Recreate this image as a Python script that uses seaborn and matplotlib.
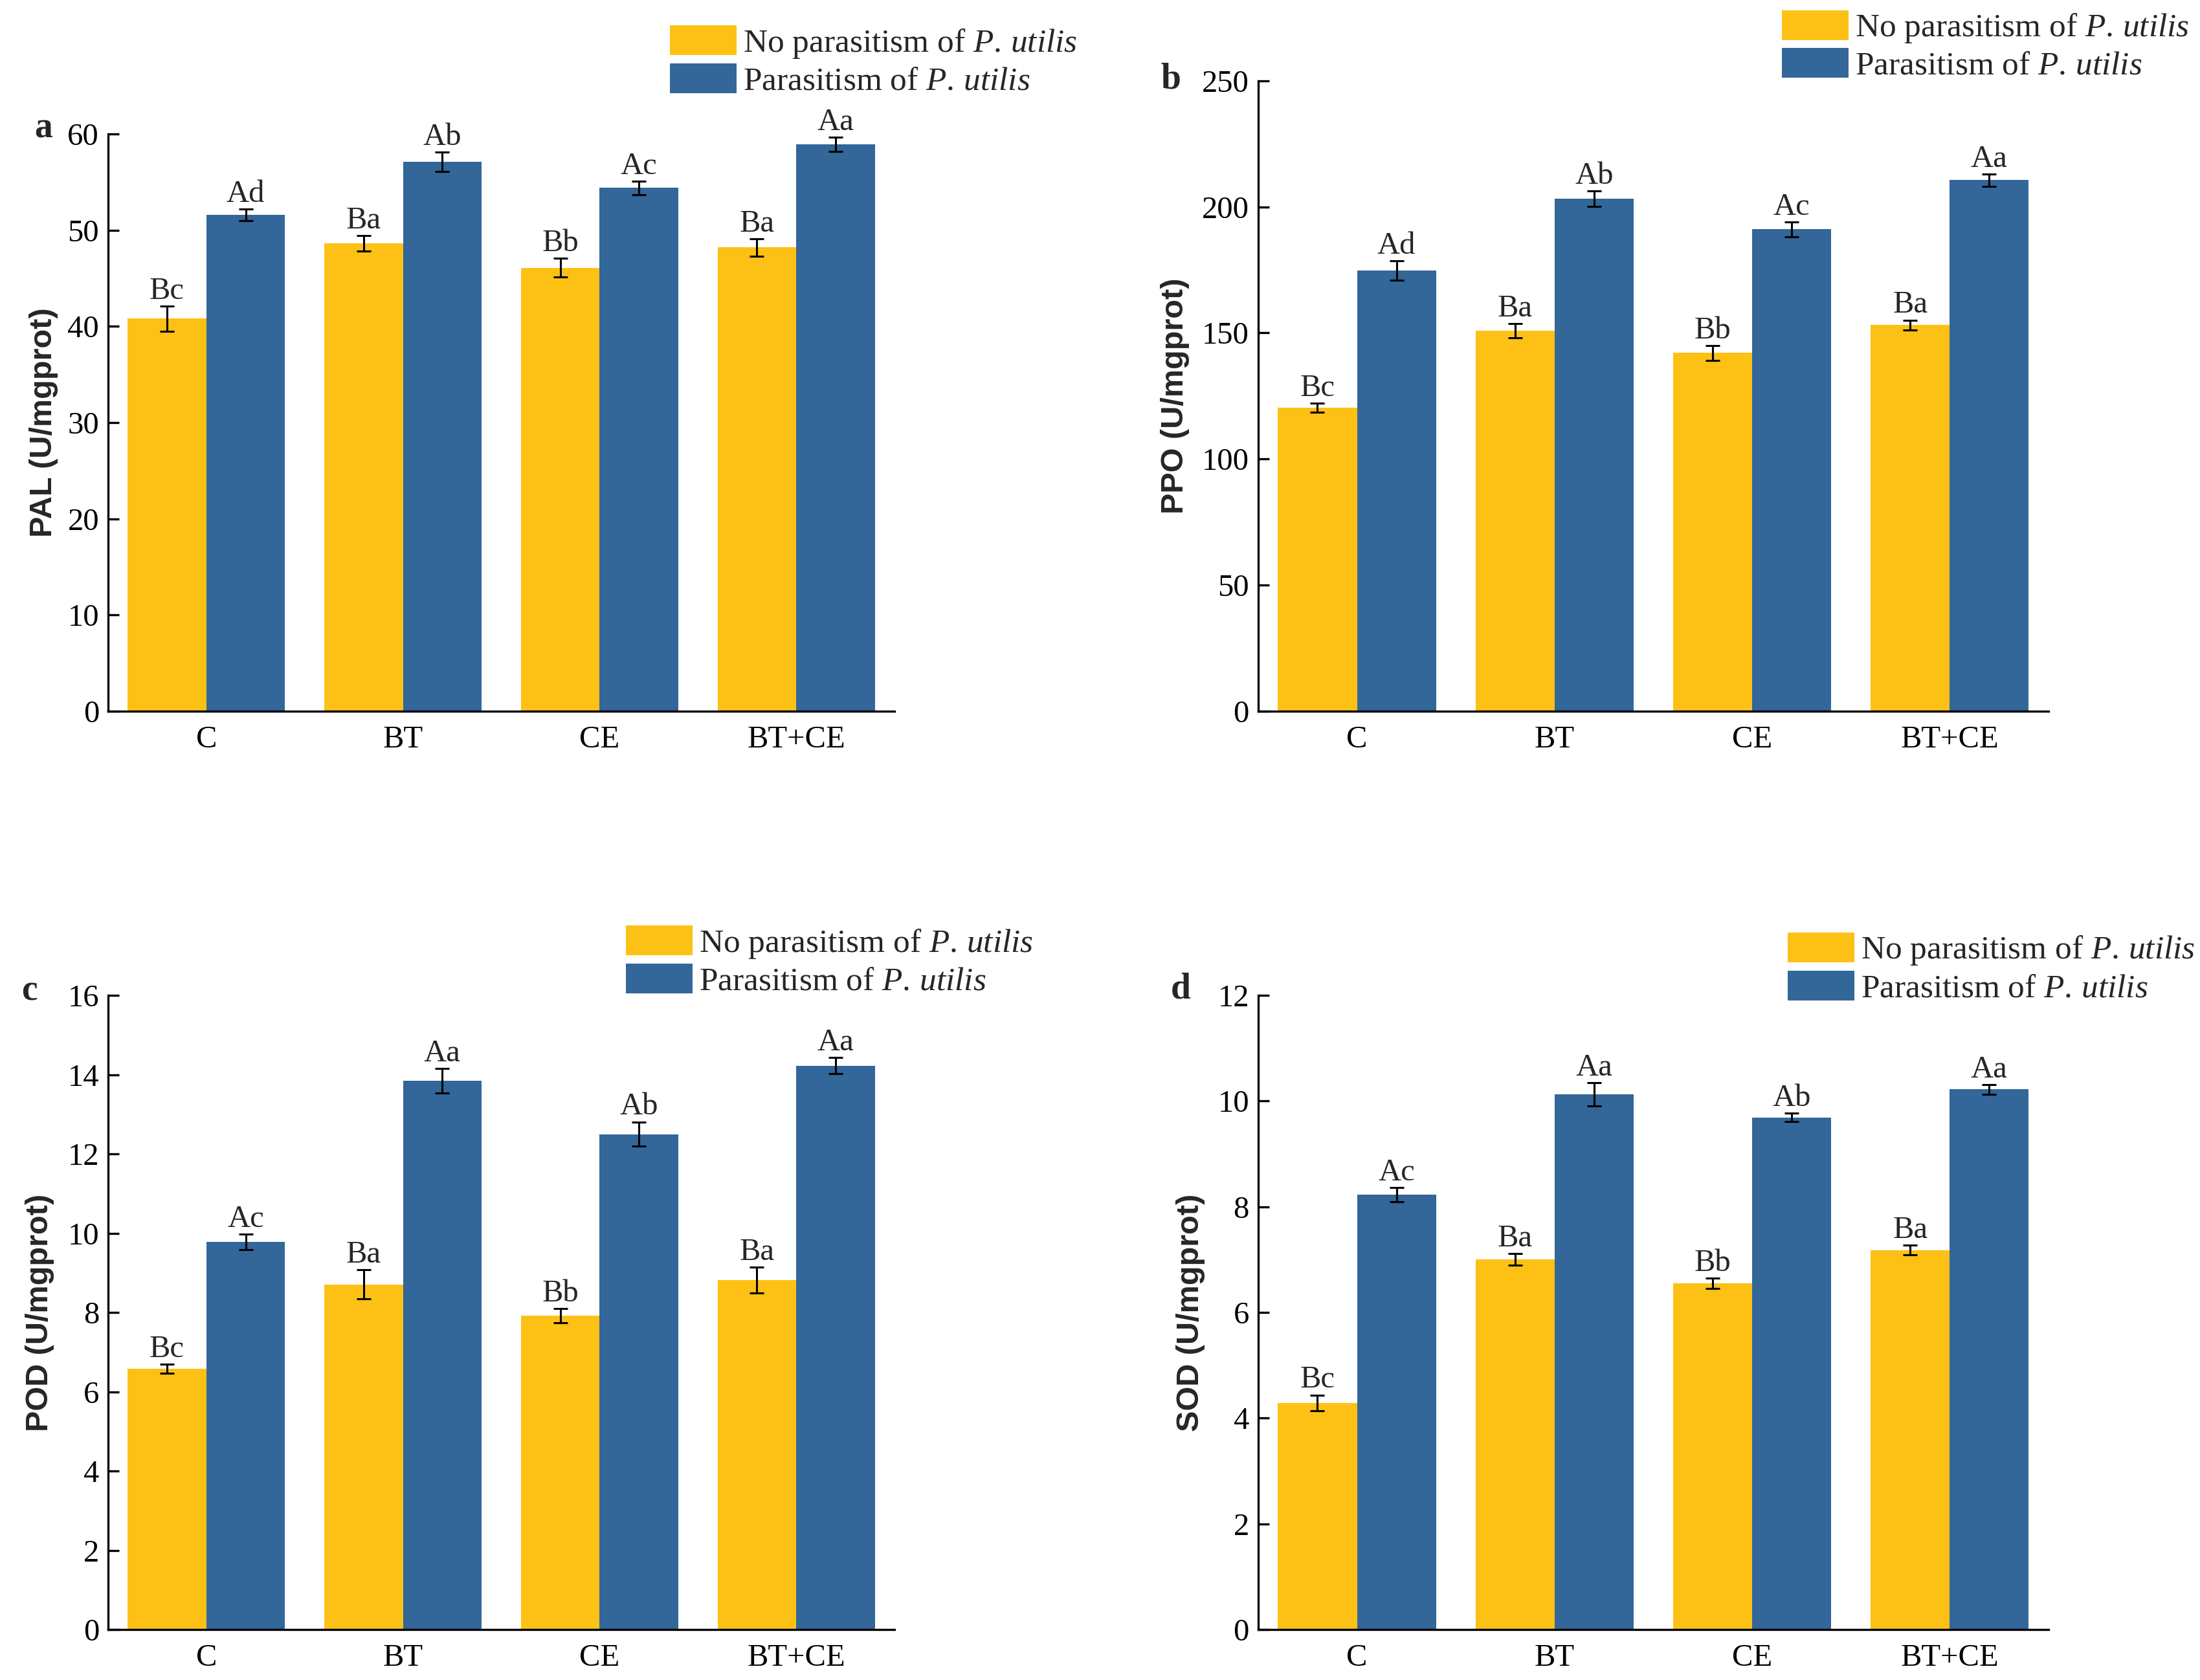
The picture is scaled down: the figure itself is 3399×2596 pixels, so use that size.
import numpy as np
import pandas as pd
import matplotlib
matplotlib.use("Agg")
import matplotlib.pyplot as plt
import seaborn as sns

# ================================================
#  Datos
# ================================================

tratamientos = ['C', 'BT', 'CE', 'BT+CE']
grupo_no = r'No parasitism of $\mathit{P.\,utilis}$'
grupo_si = r'Parasitism of $\mathit{P.\,utilis}$'

# PAL
pal_no = [40.8, 48.6, 46.1, 48.2]
pal_no_err = [1.3, 0.8, 1.0, 0.9]
pal_si = [51.6, 57.1, 54.4, 58.9]
pal_si_err = [0.6, 1.0, 0.7, 0.75]
pal_let_no = ['Bc', 'Ba', 'Bb', 'Ba']
pal_let_si = ['Ad', 'Ab', 'Ac', 'Aa']

# PPO
ppo_no = [120.3, 150.9, 142.1, 153.1]
ppo_no_err = [1.8, 2.8, 2.9, 2.0]
ppo_si = [174.8, 203.3, 191.1, 210.6]
ppo_si_err = [3.8, 3.0, 2.9, 2.4]
ppo_let_no = ['Bc', 'Ba', 'Bb', 'Ba']
ppo_let_si = ['Ad', 'Ab', 'Ac', 'Aa']

# POD
pod_no = [6.58, 8.71, 7.92, 8.82]
pod_no_err = [0.12, 0.37, 0.18, 0.32]
pod_si = [9.78, 13.85, 12.5, 14.23]
pod_si_err = [0.2, 0.31, 0.31, 0.21]
pod_let_no = ['Bc', 'Ba', 'Bb', 'Ba']
pod_let_si = ['Ac', 'Aa', 'Ab', 'Aa']

# SOD
sod_no = [4.29, 7.01, 6.55, 7.18]
sod_no_err = [0.15, 0.11, 0.10, 0.09]
sod_si = [8.23, 10.13, 9.69, 10.22]
sod_si_err = [0.13, 0.22, 0.08, 0.09]
sod_let_no = ['Bc', 'Ba', 'Bb', 'Ba']
sod_let_si = ['Ac', 'Aa', 'Ab', 'Aa']

colores = ['#FDC116', '#336699']

# ================================================
#  Estilo
# ================================================

sns.set_style('ticks')
serif = ['Liberation Serif', 'DejaVu Serif']
plt.rcParams['font.family'] = serif
plt.rcParams['mathtext.fontset'] = 'custom'
plt.rcParams['mathtext.rm'] = 'Liberation Serif'
plt.rcParams['mathtext.it'] = 'Liberation Serif:italic'

fig = plt.figure(figsize=(16.995, 12.98), dpi=200)


def panel(pos, no, no_err, si, si_err, let_no, let_si, ylabel, ymax, paso,
          letra, letra_xy, leyenda_xy, label_x):
    ax = fig.add_axes(pos)
    df = pd.DataFrame({
        'Tratamiento': tratamientos * 2,
        'Grupo': [grupo_no] * 4 + [grupo_si] * 4,
        'Valor': no + si,
    })
    sns.barplot(data=df, x='Tratamiento', y='Valor', hue='Grupo',
                palette=colores, errorbar=None, width=0.8, linewidth=0,
                saturation=1, ax=ax)

    # Barras de error y letras sobre cada barra
    for cont, errs, letras in zip(ax.containers, [no_err, si_err], [let_no, let_si]):
        for bar, e, lab in zip(cont, errs, letras):
            x = bar.get_x() + bar.get_width() / 2
            h = bar.get_height()
            ax.errorbar(x, h, yerr=e, fmt='none', ecolor='black',
                        elinewidth=1.1, capsize=4, capthick=1.1)
            ax.annotate(lab, (x, h + e), xytext=(0, 4), textcoords='offset points',
                        ha='center', va='baseline', fontsize=17.5, family=serif)

    handles, labels = ax.get_legend_handles_labels()
    ax.get_legend().remove()
    fig.legend(handles, labels, loc='upper left', bbox_to_anchor=leyenda_xy,
               bbox_transform=fig.transFigure, frameon=False, fontsize=18.5,
               handlelength=2.0, handleheight=1.0, handletextpad=0.2,
               borderpad=0, borderaxespad=0, labelspacing=0.1)

    ticks = np.arange(0, ymax + paso / 2, paso)
    ax.set_ylim(0, ymax)
    ax.set_yticks(ticks, labels=[f'{t:g}' for t in ticks])
    ax.set_xlim(-0.5, 3.5)
    ax.set_xlabel('')
    ax.set_ylabel(ylabel, fontsize=17.5, fontweight='bold',
                  family=['Liberation Sans', 'DejaVu Sans'])
    ax.yaxis.set_label_coords(label_x, 0.5)
    sns.despine(ax=ax)
    for s in ['left', 'bottom']:
        ax.spines[s].set_linewidth(1.2)
        ax.spines[s].set_color('black')
    ax.tick_params(axis='y', direction='in', length=6, width=1.2,
                   labelsize=17.5, pad=5, colors='black')
    ax.tick_params(axis='x', length=0, labelsize=17.5, pad=8, colors='black')
    for lbl in ax.get_yticklabels() + ax.get_xticklabels():
        lbl.set_fontfamily(serif)

    fig.text(letra_xy[0], letra_xy[1], letra, fontsize=20, fontweight='bold',
             ha='left', va='baseline', family=serif)
    return ax


panel([0.0491, 0.5767, 0.3575, 0.3436], pal_no, pal_no_err, pal_si, pal_si_err,
      pal_let_no, pal_let_si, 'PAL (U/mgprot)', 60, 10,
      'a', (0.0156, 0.918), (0.3045, 0.985), -0.063)

panel([0.5719, 0.5767, 0.3592, 0.3752], ppo_no, ppo_no_err, ppo_si, ppo_si_err,
      ppo_let_no, ppo_let_si, 'PPO (U/mgprot)', 250, 50,
      'b', (0.5275, 0.9476), (0.810, 0.994), -0.087)

panel([0.0491, 0.0300, 0.3575, 0.3775], pod_no, pod_no_err, pod_si, pod_si_err,
      pod_let_no, pod_let_si, 'POD (U/mgprot)', 16, 2,
      'c', (0.0097, 0.4045), (0.2845, 0.449), -0.068)

panel([0.5719, 0.0300, 0.3592, 0.3775], sod_no, sod_no_err, sod_si, sod_si_err,
      sod_let_no, sod_let_si, 'SOD (U/mgprot)', 12, 2,
      'd', (0.532, 0.406), (0.8126, 0.445), -0.067)

fig.savefig('out.png', dpi=200)
